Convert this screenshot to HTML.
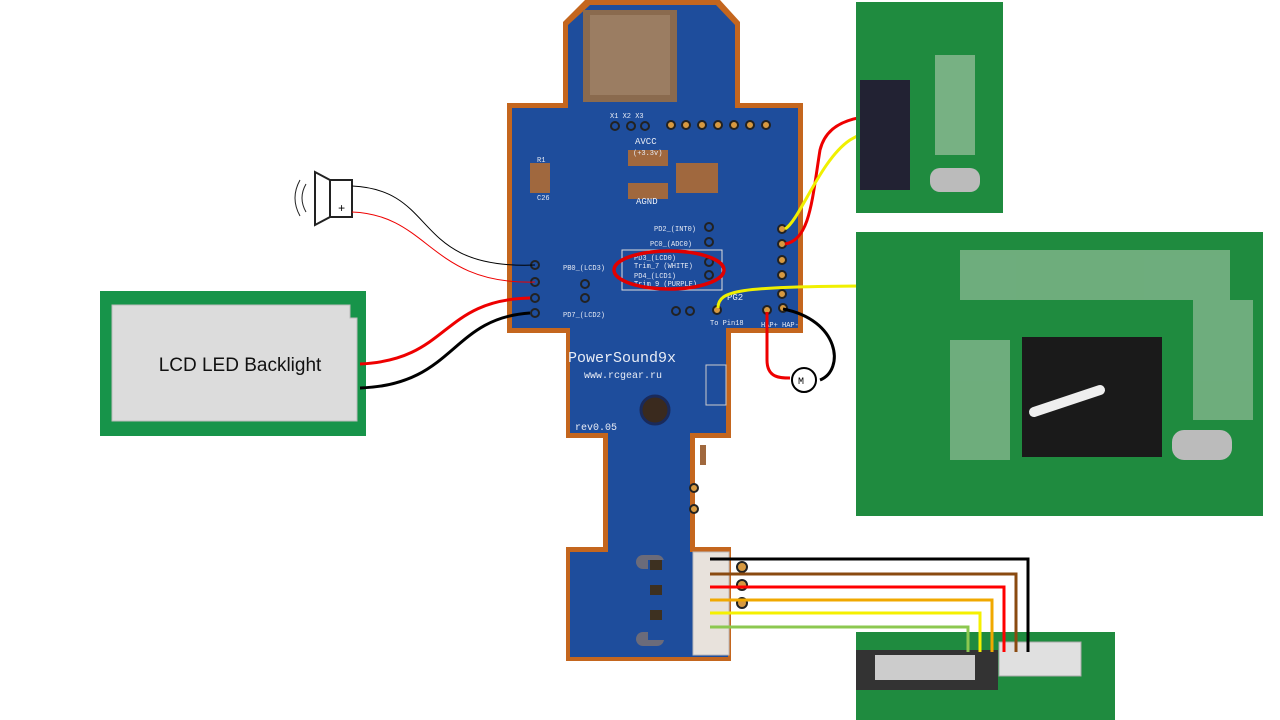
<!DOCTYPE html>
<html><head><meta charset="utf-8"><style>
html,body{margin:0;padding:0;background:#fff;width:1280px;height:720px;overflow:hidden}
svg{display:block}
text{font-family:"Liberation Mono",monospace}
</style></head><body>
<svg width="1280" height="720" viewBox="0 0 1280 720" xmlns="http://www.w3.org/2000/svg">
<!-- LCD backlight -->
<rect x="100" y="291" width="266" height="145" fill="#17944a"/>
<path d="M112 305 H350 V318 H357 V421 H112 Z" fill="#dcdcdc" stroke="#bbb"/>
<text x="240" y="371" font-family="Liberation Sans,sans-serif" font-size="19" text-anchor="middle" fill="#111" style="font-family:'Liberation Sans',sans-serif">LCD LED Backlight</text>

<!-- speaker -->
<g fill="none" stroke="#222" stroke-width="2">
<path d="M330 180 L315 172 V225 L330 217 Z"/>
<rect x="330" y="180" width="22" height="37"/>
<path d="M300 180 Q290 198 300 216" stroke-width="1"/>
<path d="M306 184 Q298 198 306 212" stroke-width="1"/>
</g>
<text x="338" y="212" font-size="12" fill="#000">+</text>

<!-- PCB -->
<path d="M585 0 H720 L740 22 V103 H803 V333 H731 V438 H695 V547 H731 V661 H566 V547 H603 V438 H566 V333 H507 V103 H563 V22 Z" fill="#c4661e"/>
<path d="M590 5 H716 L735 25 V108 H798 V328 H726 V433 H690 V552 H728 V657 H570 V552 H608 V433 H570 V328 H512 V108 H568 V25 Z" fill="#1e4d9c"/>
<rect x="583" y="10" width="94" height="92" fill="#8a6a4e"/>
<rect x="590" y="15" width="80" height="80" fill="#9b7d62"/>
<g fill="#d79940" stroke="#222" stroke-width="2">
<circle cx="671" cy="125" r="4"/><circle cx="686" cy="125" r="4"/><circle cx="702" cy="125" r="4"/><circle cx="718" cy="125" r="4"/><circle cx="734" cy="125" r="4"/><circle cx="750" cy="125" r="4"/><circle cx="766" cy="125" r="4"/>
<circle cx="615" cy="126" r="4" fill="#1e4d9c"/><circle cx="631" cy="126" r="4" fill="#1e4d9c"/><circle cx="645" cy="126" r="4" fill="#1e4d9c"/>
<circle cx="709" cy="227" r="4" fill="#1e4d9c"/><circle cx="709" cy="242" r="4" fill="#1e4d9c"/><circle cx="709" cy="262" r="4" fill="#1e4d9c"/><circle cx="709" cy="275" r="4" fill="#1e4d9c"/>
<circle cx="585" cy="284" r="4" fill="#1e4d9c"/><circle cx="585" cy="298" r="4" fill="#1e4d9c"/>
<circle cx="535" cy="265" r="4" fill="#1e4d9c"/><circle cx="535" cy="282" r="4" fill="#1e4d9c"/><circle cx="535" cy="298" r="4" fill="#1e4d9c"/><circle cx="535" cy="313" r="4" fill="#1e4d9c"/>
<circle cx="782" cy="229" r="4"/><circle cx="782" cy="244" r="4"/><circle cx="782" cy="260" r="4"/><circle cx="782" cy="275" r="4"/><circle cx="782" cy="294" r="4"/>
<circle cx="717" cy="310" r="4"/><circle cx="767" cy="310" r="4"/><circle cx="783" cy="308" r="4"/>
<circle cx="676" cy="311" r="4" fill="#1e4d9c"/><circle cx="690" cy="311" r="4" fill="#1e4d9c"/>
<circle cx="742" cy="567" r="5"/><circle cx="742" cy="585" r="5"/><circle cx="742" cy="603" r="5"/>
<circle cx="694" cy="488" r="4"/><circle cx="694" cy="509" r="4"/>
</g>
<g fill="#a0683e"><rect x="530" y="163" width="20" height="30"/><rect x="628" y="150" width="40" height="16"/><rect x="628" y="183" width="40" height="16"/><rect x="676" y="163" width="42" height="30"/><rect x="700" y="445" width="6" height="20"/></g>
<circle cx="655" cy="410" r="14" fill="#3a2a1e" stroke="#1a2a5a" stroke-width="3"/>
<g fill="#6b6b7a"><rect x="636" y="555" width="28" height="14" rx="7"/><rect x="636" y="632" width="28" height="14" rx="7"/><rect x="648" y="560" width="30" height="80" fill="#1e4d9c"/><rect x="650" y="560" width="12" height="10" fill="#3d3020"/><rect x="650" y="585" width="12" height="10" fill="#3d3020"/><rect x="650" y="610" width="12" height="10" fill="#3d3020"/></g>
<rect x="693" y="552" width="36" height="103" fill="#e8e2dc" stroke="#bbb"/>
<rect x="706" y="365" width="20" height="40" fill="none" stroke="#ccc"/>
<g fill="#e8ecf5" font-size="7">
<text x="610" y="118">X1 X2 X3</text>
<text x="635" y="144" font-size="9">AVCC</text>
<text x="633" y="155">(+3.3v)</text>
<text x="636" y="204" font-size="9">AGND</text>
<text x="537" y="162">R1</text><text x="537" y="200">C26</text>
<text x="654" y="231">PD2_(INT0)</text>
<text x="650" y="246">PC0_(ADC0)</text>
<text x="634" y="260">PD3_(LCD0)</text>
<text x="634" y="268">Trim_7 (WHITE)</text>
<text x="634" y="278">PD4_(LCD1)</text>
<text x="634" y="286">Trim_9 (PURPLE)</text>
<text x="563" y="270">PB0_(LCD3)</text>
<text x="563" y="317">PD7_(LCD2)</text>
<text x="727" y="300" font-size="9">PG2</text>
<text x="710" y="325">To Pin18</text>
<text x="761" y="327">HAP+ HAP-</text>
<text x="568" y="362" font-size="15">PowerSound9x</text>
<text x="584" y="378" font-size="10">www.rcgear.ru</text>
<text x="575" y="430" font-size="10">rev0.05</text>
</g>
<rect x="622" y="250" width="100" height="40" fill="none" stroke="#ddd"/>
<ellipse cx="669" cy="270" rx="55" ry="19" fill="none" stroke="#e00000" stroke-width="3.5"/>

<!-- wires left -->
<g fill="none" stroke-width="1">
<path d="M352 186 C440 190 410 270 535 265" stroke="#000"/>
<path d="M352 212 C430 215 430 285 535 282" stroke="#e00"/>
</g>
<g fill="none" stroke-width="3">
<path d="M360 364 C450 360 440 300 530 298" stroke="#e00"/>
<path d="M360 388 C455 385 450 318 530 313" stroke="#000"/>
<!-- right wires -->
<path d="M785 244 C810 240 812 200 820 150 C830 110 880 115 940 113" stroke="#e00"/>
<path d="M785 229 C800 220 820 160 850 140 C880 122 910 122 940 125" stroke="#f0f000"/>
<path d="M718 308 C718 290 740 287 860 286 C960 285 1040 290 1050 340" stroke="#f0f000"/>
<path d="M767 312 V360 C767 378 780 378 790 378" stroke="#e00"/>
<path d="M783 309 C840 320 845 370 820 380" stroke="#000"/>
</g>
<!-- motor -->
<circle cx="804" cy="380" r="12" fill="#fff" stroke="#000" stroke-width="2"/>
<text x="798" y="384" font-size="10">M</text>

<!-- photos right -->
<rect x="856" y="2" width="147" height="211" fill="#1f8b3f"/>
<rect x="860" y="80" width="50" height="110" fill="#223"/>
<rect x="930" y="168" width="50" height="24" rx="10" fill="#bbb"/>
<g fill="#cfd8c8"><rect x="935" y="55" width="40" height="100" opacity=".5"/></g>
<rect x="856" y="232" width="407" height="284" fill="#1f8b3f"/>
<rect x="1022" y="337" width="140" height="120" fill="#1a1a1a"/>
<path d="M1034 412 L1100 390" stroke="#eee" stroke-width="10" stroke-linecap="round"/>
<rect x="1172" y="430" width="60" height="30" rx="12" fill="#bbb"/>
<g fill="#cfd8c8" opacity=".45"><rect x="1193" y="300" width="60" height="120"/><rect x="950" y="340" width="60" height="120"/><rect x="960" y="250" width="270" height="50"/></g>
<rect x="856" y="632" width="259" height="88" fill="#1f8b3f"/>
<rect x="856" y="650" width="142" height="40" fill="#333"/>
<rect x="875" y="655" width="100" height="25" fill="#ccc"/>
<rect x="999" y="642" width="82" height="34" fill="#e0e0e0" stroke="#aaa"/>

<!-- bottom wires -->
<g fill="none" stroke-width="3">
<path d="M710 559 H1028 V652" stroke="#000"/>
<path d="M710 574 H1016 V652" stroke="#8a4a10"/>
<path d="M710 587 H1004 V652" stroke="#f00"/>
<path d="M710 600 H992 V652" stroke="#f0a800"/>
<path d="M710 613 H980 V652" stroke="#f5f000"/>
<path d="M710 627 H968 V652" stroke="#8cc850"/>
</g>
</svg>
</body></html>
